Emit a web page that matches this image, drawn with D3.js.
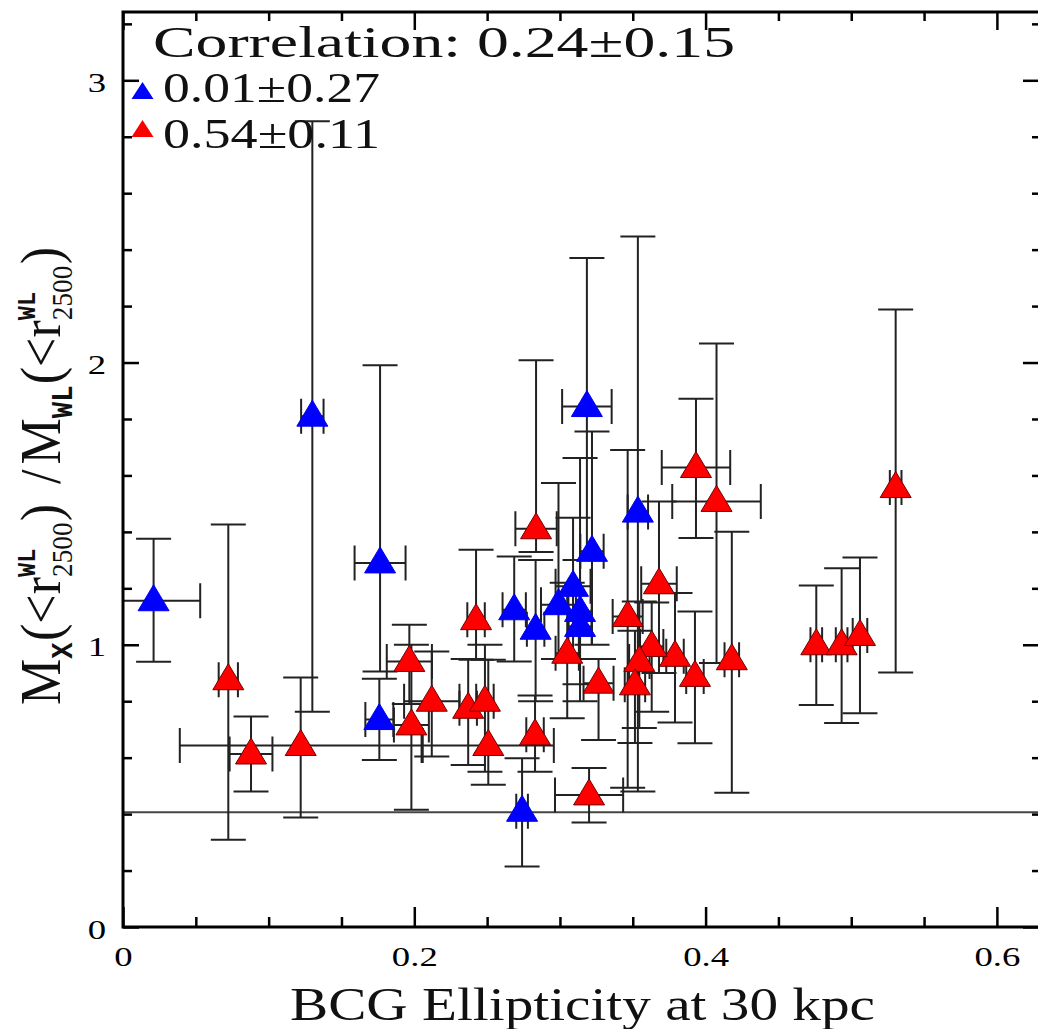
<!DOCTYPE html>
<html>
<head>
<meta charset="utf-8">
<script src="https://cdn.jsdelivr.net/npm/d3@7"></script>
<style>
  body { margin: 0; background: #fff; }
  svg { display: block; }
</style>
</head>
<body>
<div id="chart"></div>
<script>
// blue sample (x = BCG ellipticity, y = mass ratio)
const blueX = [0.021, 0.130, 0.1765, 0.176, 0.274, 0.3185, 0.322, 0.3535, 0.2686, 0.2833, 0.299, 0.309, 0.3138, 0.3138];
const blueY = [1.156, 1.81, 1.29, 0.735, 0.41, 1.844, 1.331, 1.47, 1.124, 1.055, 1.142, 1.207, 1.118, 1.065];
const blueXErr = [0.032, 0.0077, 0.0175, 0.0096, 0.004, 0.017, 0.008, 0.007, 0.008, 0.006, 0.012, 0.012, 0.008, 0.008];
const blueYLo = [0.94, 0.763, 0.905, 0.592, 0.214, 1.30, 1.0, 0.48, 0.941, 0.80, 0.95, 0.95, 0.86, 0.80];
const blueYHi = [1.376, 2.855, 1.99, 0.88, 0.598, 2.37, 1.756, 2.447, 1.313, 1.30, 1.573, 1.45, 1.662, 1.30];

// red sample
const redX = [0.0723, 0.0879, 0.122, 0.1966, 0.212, 0.198, 0.2836, 0.2424, 0.305, 0.3465, 0.368, 0.3934, 0.4075, 0.418, 0.3927, 0.379, 0.363, 0.3545, 0.3515, 0.3265, 0.320, 0.2829, 0.2508, 0.237, 0.2485, 0.476, 0.4934, 0.506, 0.5305];
const redY = [0.876, 0.613, 0.643, 0.941, 0.80, 0.716, 1.411, 1.089, 0.97, 1.10, 1.216, 1.628, 1.508, 0.947, 0.888, 0.959, 0.994, 0.941, 0.858, 0.864, 0.468, 0.681, 0.643, 0.775, 0.80, 1.0, 1.0, 1.033, 1.557];
const redXErr = [0.0066, 0.0147, 0.083, 0.0155, 0.019, 0.012, 0.0142, 0.006, 0.008, 0.0103, 0.0122, 0.0235, 0.0304, 0.005, 0.006, 0.006, 0.008, 0.007, 0.007, 0.0103, 0.0234, 0.006, 0.045, 0.006, 0.006, 0.004, 0.004, 0.005, 0.004];
const redYLo = [0.309, 0.48, 0.388, 0.79, 0.604, 0.415, 1.329, 0.947, 0.74, 0.493, 0.90, 1.378, 0.935, 0.476, 0.651, 0.725, 0.763, 0.705, 0.652, 0.663, 0.37, 0.55, 0.504, 0.574, 0.55, 0.787, 0.723, 0.757, 0.902];
const redYHi = [1.426, 0.746, 0.884, 1.071, 0.976, 1.0, 2.008, 1.337, 1.22, 1.69, 1.508, 1.872, 2.067, 1.40, 1.118, 1.183, 1.15, 1.153, 1.05, 0.95, 0.563, 0.82, 0.947, 0.95, 1.0, 1.21, 1.271, 1.309, 2.188];

const refLine = 0.407;
const xTicks = [0, 0.2, 0.4, 0.6];
const yTicks = [0, 1, 2, 3];
const corrText = "Correlation: 0.24\u00b10.15";
const blueCorr = "0.01\u00b10.27";
const redCorr = "0.54\u00b10.11";
const xTitle = "BCG Ellipticity at 30 kpc";

const width = 1038, height = 1029;
const serif = "'Liberation Serif', 'DejaVu Serif', serif";
const mono = "'Liberation Mono', 'DejaVu Sans Mono', monospace";
const stretch = 1.36; // the original figure is stretched sideways

const svg = d3.select("#chart").append("svg")
  .attr("width", width).attr("height", height)
  .style("overflow", "hidden");

const x = d3.scaleLinear().domain([0, 0.6296]).range([123, 1040]);
const y = d3.scaleLinear().domain([0, 3.242]).range([927, 12]);

const pts = [];
blueX.forEach((v, i) => pts.push({ x: v, y: blueY[i], xe: blueXErr[i], lo: blueYLo[i], hi: blueYHi[i], c: "blue" }));
redX.forEach((v, i) => pts.push({ x: v, y: redY[i], xe: redXErr[i], lo: redYLo[i], hi: redYHi[i], c: "red" }));

svg.append("defs").append("clipPath").attr("id", "clip")
  .append("rect").attr("x", 123).attr("y", 12).attr("width", 917).attr("height", 915);

const plot = svg.append("g").attr("clip-path", "url(#clip)");

// reference line
plot.append("line")
  .attr("x1", x(0)).attr("x2", x(0.6296))
  .attr("y1", y(refLine)).attr("y2", y(refLine))
  .attr("stroke", "#444").attr("stroke-width", 2);

// error bars
const cap = 17.5;
const eb = plot.append("g").attr("stroke", "#222").attr("stroke-width", 2).attr("fill", "none");
pts.forEach(d => {
  const cx = x(d.x), cy = y(d.y);
  const path = d3.path();
  path.moveTo(cx, y(d.lo)); path.lineTo(cx, y(d.hi));
  path.moveTo(cx - cap, y(d.lo)); path.lineTo(cx + cap, y(d.lo));
  path.moveTo(cx - cap, y(d.hi)); path.lineTo(cx + cap, y(d.hi));
  const xl = x(d.x - d.xe), xr = x(d.x + d.xe);
  path.moveTo(xl, cy); path.lineTo(xr, cy);
  path.moveTo(xl, cy - cap); path.lineTo(xl, cy + cap);
  path.moveTo(xr, cy - cap); path.lineTo(xr, cy + cap);
  eb.append("path").attr("d", path.toString());
});

// triangles
const tri = "M0,-16L15.5,10L-15.5,10Z";
plot.selectAll("path.tri").data(pts).enter().append("path")
  .attr("class", "tri")
  .attr("d", tri)
  .attr("transform", d => `translate(${x(d.x)},${y(d.y)})`)
  .attr("fill", d => d.c === "blue" ? "#0000ff" : "#ff0000")
  .attr("stroke", d => d.c === "blue" ? "#0000ee" : "#700000")
  .attr("stroke-width", 1);

// axes: inward ticks on all four sides
const xMinor = d3.range(1, 13).map(i => i * 0.05).filter(v => Math.abs(v / 0.2 - Math.round(v / 0.2)) > 1e-6);
const yMinor = d3.range(1, 17).map(i => i * 0.2).filter(v => Math.abs(v - Math.round(v)) > 1e-6);

function styleAxis(g) {
  g.select(".domain").remove();
  g.selectAll(".tick line").attr("stroke", "#000").attr("stroke-width", 2.5);
}

svg.append("g").attr("transform", `translate(0,${y(0)})`)
  .call(d3.axisBottom(x).tickValues(xTicks).tickSizeInner(-20).tickSizeOuter(0).tickFormat(d => String(d)))
  .call(styleAxis)
  .call(g => g.selectAll(".tick text").attr("y", 39).attr("dy", null)
    .attr("font-family", serif).attr("font-size", 27).attr("fill", "#000"));
svg.append("g").attr("transform", `translate(0,${y(0)})`)
  .call(d3.axisBottom(x).tickValues(xMinor).tickSizeInner(-10).tickSizeOuter(0).tickFormat(""))
  .call(styleAxis);
svg.append("g").attr("transform", `translate(0,${y(3.242)})`)
  .call(d3.axisTop(x).tickValues(xTicks).tickSizeInner(-18).tickSizeOuter(0).tickFormat(""))
  .call(styleAxis);
svg.append("g").attr("transform", `translate(0,${y(3.242)})`)
  .call(d3.axisTop(x).tickValues(xMinor).tickSizeInner(-9).tickSizeOuter(0).tickFormat(""))
  .call(styleAxis);

svg.append("g").attr("transform", `translate(${x(0)},0)`)
  .call(d3.axisLeft(y).tickValues(yTicks).tickSizeInner(-16).tickSizeOuter(0).tickFormat(d => String(d)))
  .call(styleAxis)
  .call(g => g.selectAll(".tick text").attr("x", -17).attr("y", 11).attr("dy", null)
    .attr("font-family", serif).attr("font-size", 27).attr("fill", "#000"));
svg.append("g").attr("transform", `translate(${x(0)},0)`)
  .call(d3.axisLeft(y).tickValues(yMinor).tickSizeInner(-9).tickSizeOuter(0).tickFormat(""))
  .call(styleAxis);
svg.append("g").attr("transform", `translate(${x(0.6296)},0)`)
  .call(d3.axisRight(y).tickValues(yTicks).tickSizeInner(-17).tickSizeOuter(0).tickFormat(""))
  .call(styleAxis);
svg.append("g").attr("transform", `translate(${x(0.6296)},0)`)
  .call(d3.axisRight(y).tickValues(yMinor).tickSizeInner(-8).tickSizeOuter(0).tickFormat(""))
  .call(styleAxis);

// stretch tick labels like the original
svg.selectAll(".tick text").each(function () {
  const w = this.getComputedTextLength();
  d3.select(this).attr("textLength", w * stretch).attr("lengthAdjust", "spacingAndGlyphs");
});

// frame
svg.append("rect")
  .attr("x", x(0)).attr("y", y(3.242))
  .attr("width", x(0.6296) - x(0)).attr("height", y(0) - y(3.242))
  .attr("fill", "none").attr("stroke", "#000").attr("stroke-width", 3);

// legend
function label(txt, lx, ly, fs, len) {
  return svg.append("text").attr("x", lx).attr("y", ly)
    .attr("font-family", serif).attr("font-size", fs).attr("fill", "#111")
    .attr("textLength", len).attr("lengthAdjust", "spacingAndGlyphs")
    .text(txt);
}
label(corrText, 153, 57, 45, 582);
label(blueCorr, 163, 102, 43, 217);
label(redCorr, 163, 148, 43, 217);
svg.append("path").attr("d", "M142.5,82L153.5,99L131.5,99Z").attr("fill", "#0000ff");
svg.append("path").attr("d", "M142.5,120L153.5,137L131.5,137Z").attr("fill", "#ff0000");

// x title
label(xTitle, 290, 1020, 46, 585);

// y title, built horizontally and then rotated
const yl = svg.append("g");
const inner = yl.append("g");
let u = 0;
function piece(txt, fs, opts) {
  opts = opts || {};
  const t = inner.append("text")
    .attr("x", u).attr("y", opts.dy || 0)
    .attr("font-family", opts.ff || serif).attr("font-size", fs)
    .attr("font-weight", opts.fw || "normal").attr("fill", "#111")
    .text(txt);
  return t.node().getComputedTextLength();
}
function half(sub) {
  u += piece("M", 42);
  u += piece(sub, 22, { ff: mono, fw: "bold", dy: 9 }) + 1;
  u += piece("(<r", 42);
  const w1 = piece("WL", 19, { ff: mono, fw: "bold", dy: -18 });
  const w2 = piece("2500", 22, { dy: 9 });
  u += Math.max(w1, w2) + 1;
  u += piece(")", 42);
}
half("X");
u += 16;
u += piece("/", 42);
u += 4;
half("WL");
const capH = 0.66 * 42;
const sx = 38 / capH, sy = 458 / u;
yl.attr("transform", `translate(60,705) scale(${sx},${sy}) rotate(-90)`);
</script>
</body>
</html>
